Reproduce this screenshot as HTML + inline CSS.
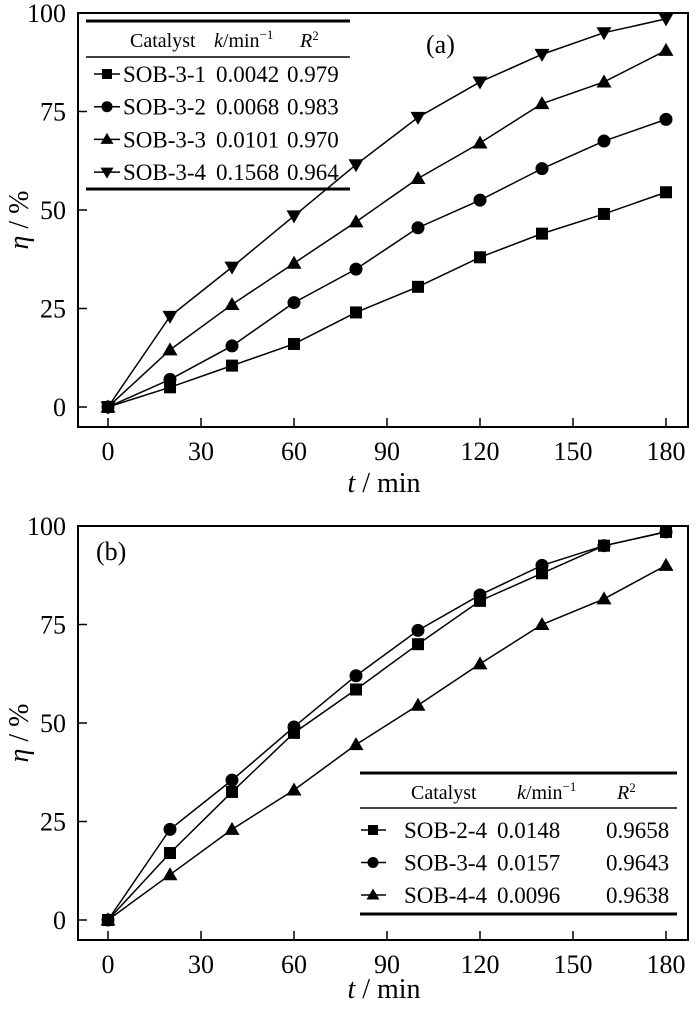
<!DOCTYPE html>
<html><head><meta charset="utf-8"><style>
body{margin:0;background:#fff}
svg text, svg tspan{font-family:"Liberation Serif","Times New Roman",serif !important;fill:#000}
</style></head><body>
<svg id="s" width="700" height="1005" viewBox="0 0 700 1005" xmlns="http://www.w3.org/2000/svg" font-family="Liberation Serif, serif"></svg>
<script>
const s=document.getElementById('s');let h='';
const X=t=>108+t*3.1;
function panel(y0,frameTop,frameBot,lab){
  const Y=v=>y0-v*3.94;
  h+=`<rect x="78" y="${frameTop}" width="610" height="${frameBot-frameTop}" fill="none" stroke="#000" stroke-width="2"/>`;
  for(let v=0;v<=100;v+=25){const y=Y(v);h+=`<line x1="78" y1="${y}" x2="87" y2="${y}" stroke="#000" stroke-width="1.5"/><text x="66" y="${y+9}" font-size="26" text-anchor="end">${v}</text>`;}
  for(let t=0;t<=180;t+=30){const x=X(t);h+=`<line x1="${x}" y1="${frameBot}" x2="${x}" y2="${frameBot-9}" stroke="#000" stroke-width="1.5"/><text x="${x}" y="${frameBot+33}" font-size="26" text-anchor="middle">${t}</text>`;}
  h+=`<text x="384" y="${frameBot+lab}" font-size="28" text-anchor="middle"><tspan font-style="italic">t</tspan> / min</text>`;
  const cy=(frameTop+frameBot)/2;
  h+=`<text transform="translate(28,${cy}) rotate(-90)" font-size="28" text-anchor="middle"><tspan font-style="italic">η</tspan> / %</text>`;
  return Y;
}
function mk(type,x,y,r){r=r||6.5;
  if(type=='s')return `<rect x="${x-r+0.5}" y="${y-r+0.5}" width="${2*r-1}" height="${2*r-1}"/>`;
  if(type=='c')return `<circle cx="${x}" cy="${y}" r="${r}"/>`;
  if(type=='u')return `<polygon points="${x},${y-r-1} ${x-r-1},${y+r-1} ${x+r+1},${y+r-1}"/>`;
  return `<polygon points="${x},${y+r+1} ${x-r-1},${y-r+1} ${x+r+1},${y-r+1}"/>`;}
function series(Y,data,type){const pts=data.map((v,i)=>[X(i*20),Y(v)]);
  h+=`<polyline points="${pts.map(p=>p.join(',')).join(' ')}" fill="none" stroke="#000" stroke-width="1.5"/>`;
  pts.forEach(p=>h+=mk(type,p[0],p[1]));}
let Y=panel(407,13,427,65);
series(Y,[0,5,10.5,16,24,30.5,38,44,49,54.5],'s');
series(Y,[0,7,15.5,26.5,35,45.5,52.5,60.5,67.5,73],'c');
series(Y,[0,14.5,26,36.5,47,58,67,77,82.5,90.5],'u');
series(Y,[0,23,35.5,48.5,61.5,73.5,82.5,89.5,95,98.5],'d');
h+=`<text x="426" y="53" font-size="26">(a)</text>`;
h+=`<line x1="86" y1="21" x2="350" y2="21" stroke="#000" stroke-width="3"/><line x1="86" y1="57" x2="350" y2="57" stroke="#000" stroke-width="1.5"/><line x1="86" y1="189" x2="350" y2="189" stroke="#000" stroke-width="3"/>`;
h+=`<text x="130" y="47" font-size="20">Catalyst</text><text x="214" y="47" font-size="20"><tspan font-style="italic">k</tspan>/min<tspan font-size="13" dy="-8">−1</tspan></text><text x="300" y="47" font-size="20"><tspan font-style="italic">R</tspan><tspan font-size="13" dy="-7">2</tspan></text>`;
[['s','SOB-3-1','0.0042','0.979'],['c','SOB-3-2','0.0068','0.983'],['u','SOB-3-3','0.0101','0.970'],['d','SOB-3-4','0.1568','0.964']].forEach((r,i)=>{const y=74+i*32.7;
 h+=`<line x1="94" y1="${y}" x2="120" y2="${y}" stroke="#000" stroke-width="1.5"/>`+mk(r[0],107,y,5.5)+`<text x="123" y="${y+8}" font-size="23">${r[1]}</text><text x="216" y="${y+8}" font-size="23">${r[2]}</text><text x="287" y="${y+8}" font-size="23">${r[3]}</text>`;});
Y=panel(920,526,940,58);
series(Y,[0,17,32.5,47.5,58.5,70,81,88,95,98.5],'s');
series(Y,[0,23,35.5,49,62,73.5,82.5,90,95,98.5],'c');
series(Y,[0,11.5,23,33,44.5,54.5,65,75,81.5,90],'u');
h+=`<text x="96" y="560" font-size="26">(b)</text>`;
h+=`<line x1="360" y1="773" x2="677" y2="773" stroke="#000" stroke-width="3"/><line x1="360" y1="808" x2="677" y2="808" stroke="#000" stroke-width="1.5"/><line x1="360" y1="914" x2="677" y2="914" stroke="#000" stroke-width="3"/>`;
h+=`<text x="411" y="799" font-size="20">Catalyst</text><text x="517" y="799" font-size="20"><tspan font-style="italic">k</tspan>/min<tspan font-size="13" dy="-8">−1</tspan></text><text x="617" y="799" font-size="20"><tspan font-style="italic">R</tspan><tspan font-size="13" dy="-7">2</tspan></text>`;
[['s','SOB-2-4','0.0148','0.9658'],['c','SOB-3-4','0.0157','0.9643'],['u','SOB-4-4','0.0096','0.9638']].forEach((r,i)=>{const y=830+i*32.5;
 h+=`<line x1="361" y1="${y}" x2="386" y2="${y}" stroke="#000" stroke-width="1.5"/>`+mk(r[0],373,y,5.5)+`<text x="404" y="${y+8}" font-size="23">${r[1]}</text><text x="497" y="${y+8}" font-size="23">${r[2]}</text><text x="606" y="${y+8}" font-size="23">${r[3]}</text>`;});
s.innerHTML=h;
</script>
</body></html>
